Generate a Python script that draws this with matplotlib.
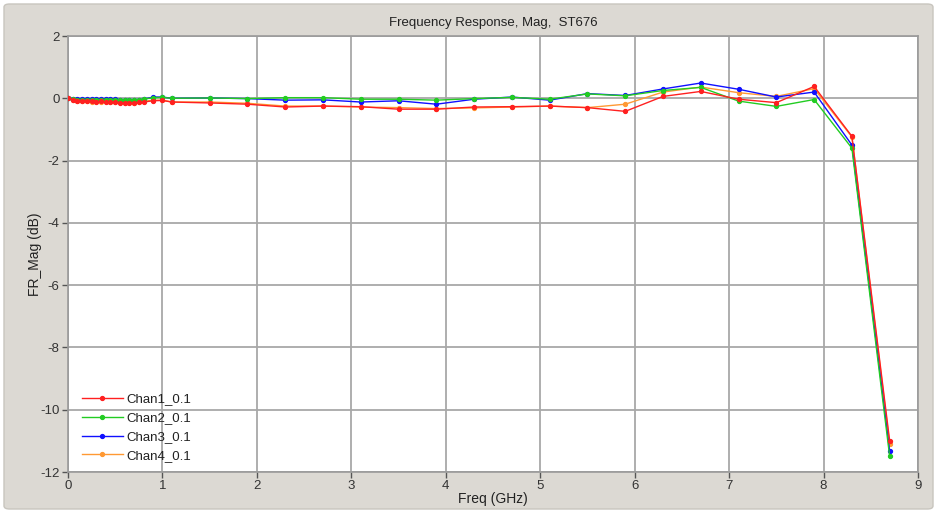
import matplotlib
matplotlib.use("Agg")
import matplotlib.pyplot as plt
from matplotlib.patches import FancyBboxPatch

plt.rcParams['font.family'] = ['Liberation Sans', 'DejaVu Sans']
plt.rcParams['axes.unicode_minus'] = False

# Frequency points (GHz): dense sweep below 1 GHz, then 400 MHz steps
freq = [0.0, 0.05, 0.1, 0.15, 0.2, 0.25, 0.3, 0.35, 0.4, 0.45, 0.5, 0.55,
        0.6, 0.65, 0.7, 0.75, 0.8, 0.9, 1.0, 1.1, 1.5, 1.9, 2.3, 2.7, 3.1,
        3.5, 3.9, 4.3, 4.7, 5.1, 5.5, 5.9, 6.3, 6.7, 7.1, 7.5, 7.9, 8.3, 8.7]

chan1 = [0.0, -0.05, -0.08, -0.1, -0.1, -0.1, -0.11, -0.1, -0.12, -0.12, -0.13,
         -0.14, -0.15, -0.16, -0.15, -0.13, -0.12, -0.08, -0.07, -0.12, -0.15,
         -0.19, -0.28, -0.25, -0.27, -0.35, -0.35, -0.28, -0.27, -0.25, -0.3,
         -0.42, 0.06, 0.22, -0.03, -0.14, 0.38, -1.22, -11.0]
chan2 = [0.0, -0.03, -0.05, -0.04, -0.05, -0.04, -0.05, -0.04, -0.05, -0.04,
         -0.05, -0.06, -0.05, -0.06, -0.05, -0.04, -0.03, 0.02, 0.03, 0.0,
         0.01, -0.01, 0.02, 0.02, -0.03, -0.03, -0.06, -0.01, 0.03, -0.03,
         0.14, 0.08, 0.25, 0.35, -0.09, -0.26, -0.04, -1.6, -11.5]
chan3 = [0.02, -0.01, -0.02, -0.01, -0.02, -0.02, -0.01, -0.02, -0.02, -0.03,
         -0.03, -0.04, -0.05, -0.05, -0.06, -0.05, -0.03, 0.04, 0.04, 0.0,
         0.01, -0.01, -0.06, -0.05, -0.12, -0.08, -0.19, -0.03, 0.04, -0.06,
         0.15, 0.09, 0.3, 0.49, 0.29, 0.04, 0.2, -1.5, -11.33]
chan4 = [0.0, -0.06, -0.09, -0.1, -0.1, -0.11, -0.1, -0.11, -0.1, -0.12, -0.12,
         -0.13, -0.14, -0.13, -0.14, -0.12, -0.1, -0.06, -0.06, -0.12, -0.12,
         -0.16, -0.25, -0.25, -0.28, -0.3, -0.33, -0.31, -0.28, -0.25, -0.3,
         -0.19, 0.2, 0.36, 0.18, 0.06, 0.31, -1.24, -11.1]

series = [
    ("Chan1_0.1", chan1, "#ff2020"),
    ("Chan2_0.1", chan2, "#22cc22"),
    ("Chan3_0.1", chan3, "#1010ff"),
    ("Chan4_0.1", chan4, "#ff9933"),
]

xticks = [0, 1, 2, 3, 4, 5, 6, 7, 8, 9]
yticks = [2, 0, -2, -4, -6, -8, -10, -12]

W, H = 937, 513
fig = plt.figure(figsize=(W / 100, H / 100), dpi=100, facecolor="white")

# grey panel behind the plot
panel = FancyBboxPatch((4 / W, 4 / H), (W - 8) / W, (H - 8) / H,
                       boxstyle="round,pad=0,rounding_size=0.006",
                       transform=fig.transFigure, facecolor="#dcd9d3",
                       edgecolor="#c8c5be", linewidth=1, zorder=-10)
fig.patches.append(panel)

ax = fig.add_axes([68 / W, 1 - 472 / H, (918 - 68) / W, (472 - 36) / H])
ax.set_facecolor("white")

lines = []
for name, vals, col in series:
    ln, = ax.plot(freq, vals, color=col, lw=1.0, marker="o", ms=2.8,
                  mec=col, mfc=col, label=name)
    lines.append(ln)
# draw channel 1 last so it sits on top
for i, ln in enumerate(lines):
    ln.set_zorder(3 + (len(lines) - i))

ax.set_xlim(0, 9)
ax.set_ylim(-12, 2)
ax.set_xticks(xticks)
ax.set_yticks(yticks)
ax.grid(True, color="#a8a8a8", lw=1.3)
ax.set_axisbelow(True)
for sp in ax.spines.values():
    sp.set_color("#9a9a9a")
    sp.set_linewidth(1.2)
ax.tick_params(colors="#555555", labelcolor="#333333", labelsize=9.5,
               length=4, width=1, direction="out", pad=2)

ax.set_title("Frequency Response, Mag,  ST676", fontsize=9.5, color="#222222",
             pad=7)
ax.set_xlabel("Freq (GHz)", fontsize=10, color="#222222", labelpad=0)
ax.set_ylabel("FR_Mag (dB)", fontsize=10, color="#222222", labelpad=-1)

ax.legend(loc="lower left", bbox_to_anchor=(14 / 850, 10 / 436),
          frameon=False, fontsize=9.5, handlelength=3.1,
          labelspacing=0.5, borderaxespad=0, borderpad=0,
          handletextpad=0.25, labelcolor="#222222")

fig.savefig("out.png", dpi=100, facecolor=fig.get_facecolor())
